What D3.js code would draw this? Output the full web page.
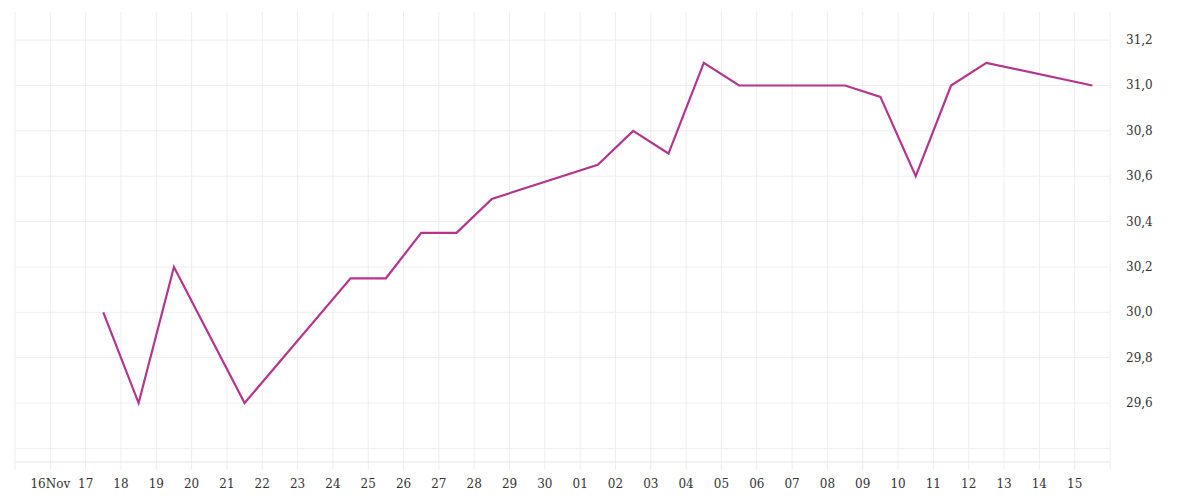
<!DOCTYPE html><html><head><meta charset="utf-8"><script src="https://cdn.jsdelivr.net/npm/d3@7"></script>
<style>body{margin:0;background:#fff}text{font-family:"DejaVu Serif",serif;font-size:12px;fill:#333}</style></head><body><svg width="1200" height="500"></svg><script>
const dates=["2023-11-17","2023-11-18","2023-11-19","2023-11-21","2023-11-24","2023-11-25","2023-11-26","2023-11-27","2023-11-28","2023-12-01","2023-12-02","2023-12-03","2023-12-04","2023-12-05","2023-12-08","2023-12-09","2023-12-10","2023-12-11","2023-12-12","2023-12-15"];
const values=[30.0,29.6,30.2,29.6,30.15,30.15,30.35,30.35,30.5,30.65,30.8,30.7,31.1,31.0,31.0,30.95,30.6,31.0,31.1,31.0];
const yTicks=[29.6,29.8,30.0,30.2,30.4,30.6,30.8,31.0,31.2];
const svg=d3.select("svg");
const x=d3.scaleTime().domain([new Date(2023,10,15),new Date(2023,11,16)]).range([15,1110]);
const y=d3.scaleLinear().domain([29.34,31.324]).range([462,12]);
const days=d3.timeDay.range(new Date(2023,10,15),new Date(2023,11,17));
const g=svg.append("g");
g.selectAll(".vx").data(days).join("line").attr("x1",d=>x(d)).attr("x2",d=>x(d)).attr("y1",12).attr("y2",470).attr("stroke","#eee");
g.selectAll(".hy").data([29.4,...yTicks]).join("line").attr("x1",15).attr("x2",1110).attr("y1",d=>y(d)).attr("y2",d=>y(d)).attr("stroke","#eee");
g.append("line").attr("x1",15).attr("x2",1110).attr("y1",462).attr("y2",462).attr("stroke","#e6e6e6");
const fmt=d=>d.getDate()===16&&d.getMonth()===10?"16Nov":d3.timeFormat("%d")(d);
svg.selectAll(".xl").data(days.filter(d=>d>new Date(2023,10,15)&&d<new Date(2023,11,16))).join("text").attr("x",d=>x(d)).attr("y",488).attr("text-anchor","middle").text(fmt);
svg.selectAll(".yl").data(yTicks).join("text").attr("x",1126).attr("y",d=>y(d)+4).text(d=>d.toFixed(1).replace(".",","));
const pts=dates.map((d,i)=>[d3.timeHour.offset(d3.timeParse("%Y-%m-%d")(d),12),values[i]]);
svg.append("path").datum(pts).attr("fill","none").attr("stroke","#b5358c").attr("stroke-width",2.2).attr("d",d3.line().x(d=>x(d[0])).y(d=>y(d[1])));
</script></body></html>
